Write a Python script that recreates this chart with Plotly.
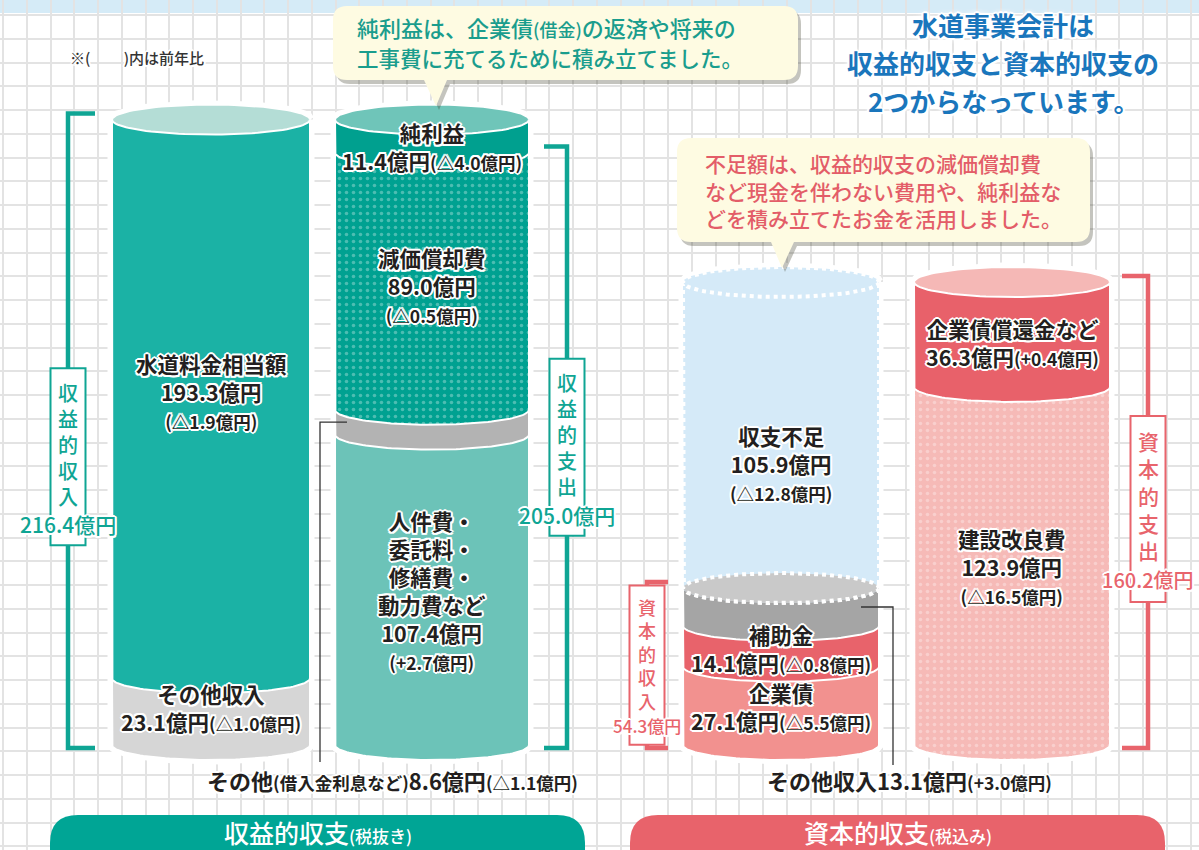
import re
import numpy as np
import plotly.graph_objects as go

# ---------------- data (億円) ----------------
rev_in_labels = ["その他収入", "水道料金相当額"]
rev_in_values = [23.1, 193.3]
rev_in_diff = ["△1.0億円", "△1.9億円"]

rev_out_labels = ["人件費・委託料・修繕費・動力費など", "その他(借入金利息など)", "減価償却費", "純利益"]
rev_out_values = [107.4, 8.6, 89.0, 11.4]
rev_out_diff = ["+2.7億円", "△1.1億円", "△0.5億円", "△4.0億円"]

cap_in_labels = ["企業債", "補助金", "その他収入", "収支不足"]
cap_in_values = [27.1, 14.1, 13.1, 105.9]
cap_in_diff = ["△5.5億円", "△0.8億円", "+3.0億円", "△12.8億円"]

cap_out_labels = ["建設改良費", "企業債償還金など"]
cap_out_values = [123.9, 36.3]
cap_out_diff = ["△16.5億円", "+0.4億円"]

bracket_labels = ["収益的収入", "収益的支出", "資本的収入", "資本的支出"]
bracket_totals = [216.4, 205.0, 54.3, 160.2]

section_titles = ["収益的収支", "資本的収支"]
section_notes = ["(税抜き)", "(税込み)"]

# ---------------- layout constants ----------------
W, H = 1199, 850
BASE = 745.0          # pixel row of value 0
PX = 2.89             # pixels per 億円


def v(py):
    return (BASE - py) / PX


EH = 15 / PX          # ellipse half height in value units

FONT = "Noto Sans CJK JP"
DARK = "#231f20"
TEAL = "#0fa594"
RED = "#e8646c"
HALO = ", ".join(f"{dx}px {dy}px 0 #fff" for dx, dy in
                 [(-2, 0), (2, 0), (0, -2), (0, 2), (-1.5, -1.5), (1.5, -1.5), (-1.5, 1.5), (1.5, 1.5)])
GLOW = HALO + ", 0 0 6px #fff, 0 0 6px #fff"
MAIN = 21.5
SM = 17.5

fig = go.Figure()
shapes = []
ann = []


def poly(xs, ys, fill, lc="white", lw=2.0, dash="solid", pattern=None):
    kw = dict(x=list(xs), y=list(ys), mode="lines", fill="toself", fillcolor=fill,
              line=dict(color=lc, width=lw, dash=dash), hoverinfo="skip", showlegend=False)
    if pattern:
        kw["fillpattern"] = pattern
    fig.add_trace(go.Scatter(**kw))


def cyl_halo(xc, w, top):
    r = w / 2
    t1 = np.linspace(0, np.pi, 50)
    t2 = np.linspace(np.pi, 2 * np.pi, 50)
    xs = list(xc + r * np.cos(t1)) + list(xc + r * np.cos(t2))
    ys = list(top + EH * np.sin(t1)) + list(0 + EH * np.sin(t2))
    xs.append(xs[0]); ys.append(ys[0])
    poly(xs, ys, "white", "white", 9)


def seg(xc, w, v0, v1, color, lc="white", lw=2.0, dash="solid", pattern=None):
    r = w / 2
    t = np.linspace(np.pi, 2 * np.pi, 70)
    xs = [xc - r, xc - r] + list(xc + r * np.cos(t)) + [xc + r, xc + r, xc - r]
    ys = [v1, v0] + list(v0 + EH * np.sin(t)) + [v0, v1, v1]
    poly(xs, ys, color, lc, lw, dash, pattern)


def ellipse(xc, w, vc, color, lc="white", lw=2.0, dash="solid"):
    r = w / 2
    t = np.linspace(0, 2 * np.pi, 100)
    poly(xc + r * np.cos(t), vc + EH * np.sin(t), color, lc, lw, dash)


def dots(bg):
    return dict(shape=".", bgcolor=bg, fgcolor="rgba(255,255,255,0.6)", size=7, solidity=0.2)


def text(x, y, s, size=MAIN, color=DARK, weight=700, shadow=HALO, xanchor="center", yanchor="middle", yshift=0,
         align="center"):
    ann.append(dict(x=x, y=y, text=s, showarrow=False, xref="x", yref="y", xanchor=xanchor, yanchor=yanchor,
                    yshift=yshift, align=align,
                    font=dict(family=FONT, size=size, color=color, weight=weight, shadow=shadow)))


def small(s, size=SM):
    return f"<span style='font-size:{size}px'>{s}</span>"


def block(x, vc, lines, shift=0):
    text(x, vc, "<br>".join(lines), size=MAIN, yshift=-shift)


def cum(vals):
    c = np.concatenate([[0], np.cumsum(vals)])
    return c[:-1], c[1:]


# cylinder geometry
CA = dict(xc=211, w=198)
CB = dict(xc=432, w=194)
CC = dict(xc=781, w=196)
CD = dict(xc=1012, w=196)

# ---------- cylinder A: 収益的収入 ----------
a0, a1 = cum(rev_in_values)
cyl_halo(CA["xc"], CA["w"], a1[-1])
seg(CA["xc"], CA["w"], a0[0], a1[0], "#d6d6d6")
seg(CA["xc"], CA["w"], a0[1], a1[1], "#1bb2a5")
ellipse(CA["xc"], CA["w"], a1[-1], "#b4ddd6")
block(CA["xc"], (a0[1] + a1[1]) / 2,
      [rev_in_labels[1], f"{rev_in_values[1]:.1f}億円", small(f"({rev_in_diff[1]})")], shift=-8)
block(CA["xc"], (a0[0] + a1[0]) / 2,
      [rev_in_labels[0], f"{rev_in_values[0]:.1f}億円" + small(f"({rev_in_diff[0]})")], shift=-4)

# ---------- cylinder B: 収益的支出 + 純利益 ----------
b0, b1 = cum(rev_out_values)
cyl_halo(CB["xc"], CB["w"], b1[-1])
seg(CB["xc"], CB["w"], b0[0], b1[0], "#6cc3b8")
seg(CB["xc"], CB["w"], b0[1], b1[1], "#b3b3b3")
seg(CB["xc"], CB["w"], b0[2], b1[2], "#00a191", pattern=dots("#00a191"))
seg(CB["xc"], CB["w"], b0[3], b1[3], "#00a08f")
ellipse(CB["xc"], CB["w"], b1[-1], "#6fc5b9")
parts = re.findall(r"[^・]+・?", rev_out_labels[0])
block(CB["xc"], (b0[0] + b1[0]) / 2,
      parts + [f"{rev_out_values[0]:.1f}億円", small(f"({rev_out_diff[0]})")])
block(CB["xc"], (b0[2] + b1[2]) / 2,
      [rev_out_labels[2], f"{rev_out_values[2]:.1f}億円", small(f"({rev_out_diff[2]})")], shift=4)
block(CB["xc"], (b0[3] + b1[3]) / 2,
      [rev_out_labels[3], f"{rev_out_values[3]:.1f}億円" + small(f"({rev_out_diff[3]})")], shift=10)

# ---------- cylinder C: 資本的収入 + 収支不足 ----------
c0, c1 = cum(cap_in_values)
cyl_halo(CC["xc"], CC["w"], c1[-1])
seg(CC["xc"], CC["w"], c0[0], c1[0], "#f2918f")
seg(CC["xc"], CC["w"], c0[1], c1[1], "#e8636b")
seg(CC["xc"], CC["w"], c0[2], c1[2], "#a5a5a5")
seg(CC["xc"], CC["w"], c0[3], c1[3], "#d5eaf8", lw=4, dash="dot")
ellipse(CC["xc"], CC["w"], c1[2], "#c9c9c9", lw=4, dash="dot")
ellipse(CC["xc"], CC["w"], c1[3], "#d5eaf8", lw=4, dash="dot")
block(CC["xc"], (c0[3] + c1[3]) / 2,
      [cap_in_labels[3], f"{cap_in_values[3]:.1f}億円", small(f"({cap_in_diff[3]})")], shift=28)
block(CC["xc"], (c0[1] + c1[1]) / 2,
      [cap_in_labels[1], f"{cap_in_values[1]:.1f}億円" + small(f"({cap_in_diff[1]})")], shift=2)
block(CC["xc"], (c0[0] + c1[0]) / 2,
      [cap_in_labels[0], f"{cap_in_values[0]:.1f}億円" + small(f"({cap_in_diff[0]})")], shift=1)

# ---------- cylinder D: 資本的支出 ----------
d0, d1 = cum(cap_out_values)
cyl_halo(CD["xc"], CD["w"], d1[-1])
seg(CD["xc"], CD["w"], d0[0], d1[0], "#f6bab7", pattern=dots("#f6bab7"))
seg(CD["xc"], CD["w"], d0[1], d1[1], "#e8616a")
ellipse(CD["xc"], CD["w"], d1[-1], "#f5b8b6")
block(CD["xc"], (d0[1] + d1[1]) / 2,
      [cap_out_labels[1], f"{cap_out_values[1]:.1f}億円" + small(f"({cap_out_diff[1]})")], shift=8)
block(CD["xc"], (d0[0] + d1[0]) / 2,
      [cap_out_labels[0], f"{cap_out_values[0]:.1f}億円", small(f"({cap_out_diff[0]})")])

# ---------- leader lines to external labels ----------
vb = (b0[1] + b1[1]) / 2
shapes.append(dict(type="path", xref="x", yref="y", layer="above",
                   path=f"M {CB['xc'] - CB['w'] / 2 + 12},{vb} L 320,{vb} L 320,{v(762)}",
                   line=dict(color="#333333", width=1.3)))
vc_ = (c0[2] + c1[2]) / 2
shapes.append(dict(type="path", xref="x", yref="y", layer="above",
                   path=f"M {CC['xc'] + CC['w'] / 2 - 18},{vc_} L 893,{vc_} L 893,{v(765)}",
                   line=dict(color="#333333", width=1.3)))
nm, paren = rev_out_labels[1].split("(")
text(392, v(780), f"{nm}" + small("(" + paren) + f"{rev_out_values[1]:.1f}億円" + small(f"({rev_out_diff[1]})"),
     size=22)
text(909, v(780), f"{cap_in_labels[2]}{cap_in_values[2]:.1f}億円" + small(f"({cap_in_diff[2]})"), size=22)

# ---------- brackets ----------
br_style = [dict(x=68, tick=27, color=TEAL, size=20, amt=21, dy=26),
            dict(x=567, tick=-23, color=TEAL, size=20, amt=21, dy=0),
            dict(x=647, tick=21, color=RED, size=18, amt=17, dy=0),
            dict(x=1148, tick=-26, color=RED, size=21, amt=20, dy=-3)]
for lab, tot, st in zip(bracket_labels, bracket_totals, br_style):
    top_px = BASE - tot * PX - 6
    bot_px = BASE + 3
    x, tk, col, sz = st["x"], st["tick"], st["color"], st["size"]
    sp = 1.3 * sz
    shapes.append(dict(type="path", xref="x", yref="y", layer="above",
                       path=f"M {x + tk},{v(top_px)} L {x},{v(top_px)} L {x},{v(bot_px)} L {x + tk},{v(bot_px)}",
                       line=dict(color=col, width=4.5)))
    pad_t, gap_a, pad_b = 1.2 * sz, 1.4 * sz, 1.05 * sz
    bh = (len(lab) - 1) * sp + pad_t + gap_a + pad_b
    mid = (top_px + bot_px) / 2 + st["dy"]
    btop = mid - bh / 2
    shapes.append(dict(type="rect", xref="x", yref="y", layer="above",
                       x0=x - 17.5, x1=x + 17.5, y0=v(btop), y1=v(btop + bh),
                       fillcolor="white", line=dict(color=col, width=2)))
    text(x, v(btop + pad_t + (len(lab) - 1) * sp / 2), "<br>".join(lab), size=sz, color=col, weight=500,
         shadow="none")
    text(x, v(btop + pad_t + (len(lab) - 1) * sp + gap_a), f"{tot:.1f}億円", size=st["amt"], color=col, weight=500)


# ---------- callouts ----------
def callout_path(x0, y0, x1, y1, r, bx0, bx1, tx, ty, dx=0, dy=0):
    P = lambda x, y: f"{x + dx},{v(y + dy)}"
    return (f"M {P(x0 + r, y0)} L {P(x1 - r, y0)} Q {P(x1, y0)} {P(x1, y0 + r)} "
            f"L {P(x1, y1 - r)} Q {P(x1, y1)} {P(x1 - r, y1)} L {P(bx1, y1)} L {P(tx, ty)} L {P(bx0, y1)} "
            f"L {P(x0 + r, y1)} Q {P(x0, y1)} {P(x0, y1 - r)} L {P(x0, y0 + r)} Q {P(x0, y0)} {P(x0 + r, y0)} Z")


for geom in [(333, 6, 798, 80, 14, 424, 447, 436, 106), (677, 138, 1090, 242, 14, 771, 794, 782, 268)]:
    shapes.append(dict(type="path", xref="x", yref="y", layer="above", path=callout_path(*geom, dx=3, dy=4),
                       fillcolor="rgba(60,60,40,0.30)", line=dict(width=0)))
    shapes.append(dict(type="path", xref="x", yref="y", layer="above", path=callout_path(*geom),
                       fillcolor="#fefbe2", line=dict(width=0)))

CT = "#1a9d8d"
text(355, v(27), "純利益は、企業債" + small("(借金)", 18) + "の返済や将来の", size=22, color=CT, weight=500,
     shadow="none", xanchor="left")
text(355, v(57), "工事費に充てるために積み立てました。", size=21.5, color=CT, weight=500, shadow="none", xanchor="left")
CR = "#e35d68"
for i, s in enumerate(["不足額は、収益的収支の減価償却費", "など現金を伴わない費用や、純利益な", "どを積み立てたお金を活用しました。"]):
    text(703, v(163 + 27.5 * i), s, size=21, color=CR, weight=500, shadow="none", xanchor="left")

# ---------- title & note ----------
for i, s in enumerate(["水道事業会計は", "収益的収支と資本的収支の", "2つからなっています。"]):
    text(1003, v(24 + 38 * i), s, size=26, color="#1a76bc", weight=700, shadow=GLOW)
text(68, v(57), "※(　　 )内は前年比", size=15, color="#333333", weight=500, xanchor="left", shadow=HALO)

# ---------- top strip ----------
shapes.insert(0, dict(type="rect", xref="x", yref="y", layer="below", x0=0, x1=W, y0=v(13), y1=v(-5),
                      fillcolor="#d5ebf7", line=dict(width=0)))

# ---------- bottom banners ----------
for (x0, x1, col), ttl, note in zip([(50, 585, "#00a595"), (630, 1165, "#e8636b")], section_titles, section_notes):
    r = 28
    P = lambda x, y: f"{x},{v(y)}"
    path = (f"M {P(x0, 880)} L {P(x0, 815 + r)} Q {P(x0, 815)} {P(x0 + r, 815)} L {P(x1 - r, 815)} "
            f"Q {P(x1, 815)} {P(x1, 815 + r)} L {P(x1, 880)} Z")
    shapes.append(dict(type="path", xref="x", yref="y", layer="above", path=path, fillcolor=col, line=dict(width=0)))
    text((x0 + x1) / 2, v(832), ttl + small(note, 17), size=25, color="white", weight=500, shadow="none")

GRID = 23.75
fig.update_layout(
    width=W, height=H, margin=dict(l=0, r=0, t=0, b=0),
    paper_bgcolor="white", plot_bgcolor="white", showlegend=False,
    xaxis=dict(range=[0, W], showgrid=True, gridcolor="#e3e3e3", gridwidth=1.6, tick0=3, dtick=GRID,
               zeroline=False, showticklabels=False, ticks="", fixedrange=True, showline=False),
    yaxis=dict(range=[v(H), v(0)], showgrid=True, gridcolor="#e3e3e3", gridwidth=1.6, tick0=v(15),
               dtick=GRID / PX, zeroline=False, showticklabels=False, ticks="", fixedrange=True, showline=False),
    shapes=shapes, annotations=ann,
)

fig.write_html("out.html")
